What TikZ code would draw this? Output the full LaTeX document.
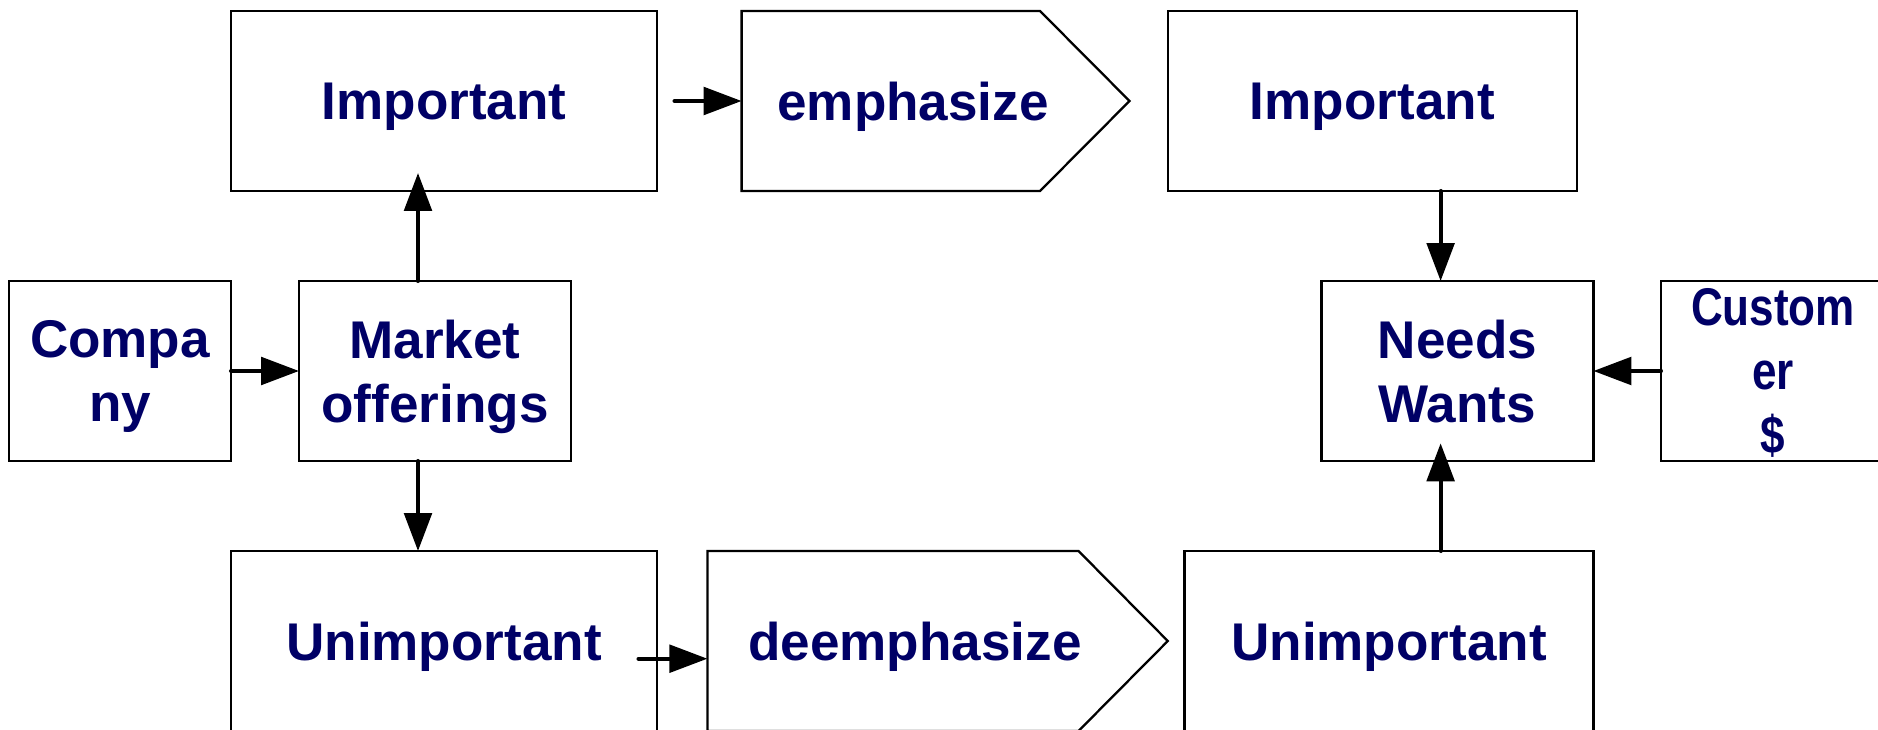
\documentclass[tikz,border=0pt]{standalone}
\usepackage{fontspec}
\setmainfont{Liberation Sans}
\newfontfamily\narrowsans[FakeStretch=0.83]{Liberation Sans}
\usetikzlibrary{arrows.meta}
\definecolor{inkblue}{RGB}{0,0,102}
\tikzset{
  box/.style={draw=black, line width=0.65pt, rectangle, inner sep=0pt, outer sep=0pt,
    minimum height=18mm, align=center, text=inkblue, text depth=0pt,
    font=\fontsize{15.1}{18.1}\selectfont\bfseries},
  frame/.style={rectangle, inner sep=0pt, outer sep=0pt, minimum height=18mm},
  outline/.style={draw=black, line width=0.65pt, line join=miter},
  lbl/.style={text=inkblue, inner sep=0pt, text depth=0pt,
    font=\fontsize{15.1}{18.1}\selectfont\bfseries},
  arr/.style={draw=black, line width=1.15pt, line cap=round,
    -{Triangle[length=3.8mm, width=2.75mm]}},
}
\begin{document}
\begin{tikzpicture}[x=0.1mm, y=-0.1mm]
\useasboundingbox (0,0) rectangle (1878,730);

% top row
\node[box, minimum width=42.6mm] (impL) at (444,101) {Important};
\node[frame, minimum width=29.84mm] (emph) at (890.8,101) {};
\draw[outline] (emph.north west) -- (emph.north east) -- ++(89.5,90)
  -- (emph.south east) -- (emph.south west) -- cycle;
\node[lbl] (emphT) at (913,101) {emphasize};
\node[box, minimum width=40.9mm] (impR) at (1372.3,101) {Important};

% middle row
\node[box, minimum width=22.2mm] (comp) at (120,371) {Compa\\ny};
\node[box, minimum width=27.2mm] (mkt) at (435,371) {Market\\offerings};
\node[box, minimum width=27.2mm] (needs) at (1457.4,371) {Needs\\Wants};
\node[box, minimum width=22.4mm, font=\fontsize{15.1}{18.1}\narrowsans\bfseries] (cust) at (1773,371) {Custom\\er\\\$};

% bottom row
\node[box, minimum width=42.6mm] (unimpL) at (444,641) {Unimportant};
\node[frame, minimum width=37.11mm] (deemph) at (892.95,641) {};
\draw[outline] (deemph.north west) -- (deemph.north east) -- ++(89.3,90)
  -- (deemph.south east) -- (deemph.south west) -- cycle;
\node[lbl] (deemphT) at (915,641) {deemphasize};
\node[box, minimum width=40.9mm] (unimpR) at (1389,641) {Unimportant};

% connectors
\coordinate (m1) at ([xshift=-1.7mm]mkt.north);
\coordinate (m2) at ([xshift=-1.7mm]mkt.south);
\coordinate (n1) at ([xshift=-1.68mm]needs.north);
\coordinate (n2) at ([xshift=-1.68mm]needs.south);

\draw[arr] (comp.east) -- (mkt.west);
\draw[arr, shorten >=-1.8mm] (m1) -- (m1 |- impL.south);
\draw[arr] (m2) -- (m2 |- unimpL.north);
\draw[arr] ([xshift=1.75mm]impL.east) -- (emph.west);
\draw[arr] ([xshift=-1.85mm,yshift=-1.77mm]unimpL.east) -- ([yshift=-1.77mm]deemph.west);
\draw[arr] (n1 |- impR.south) -- (n1);
\draw[arr, shorten >=-1.77mm] (n2 |- unimpR.north) -- (n2);
\draw[arr] (cust.west) -- (needs.east);
\end{tikzpicture}
\end{document}
